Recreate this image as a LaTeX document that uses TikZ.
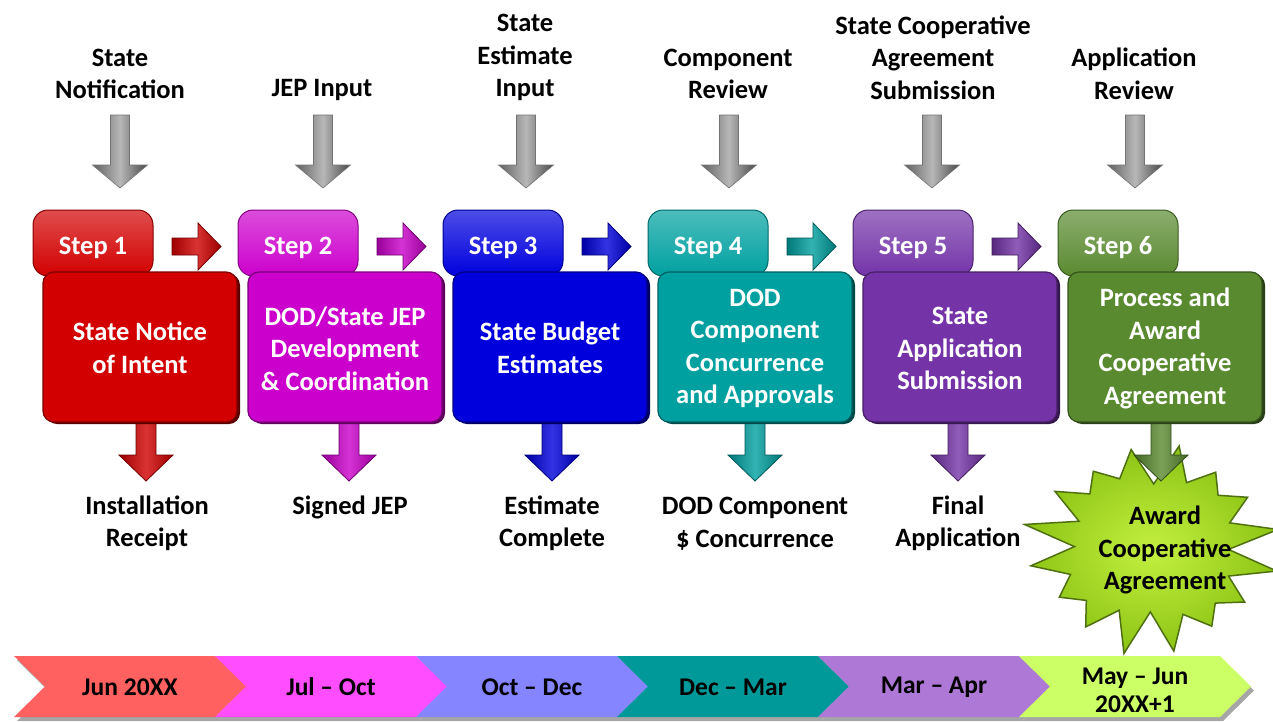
\documentclass[tikz,border=0pt]{standalone}
\usepackage{fontspec}
\setmainfont{Carlito}
\definecolor{sRed}{HTML}{D20000}
\definecolor{sMag}{HTML}{CC00CC}
\definecolor{sBlue}{HTML}{0000DD}
\definecolor{sTeal}{HTML}{00A0A0}
\definecolor{sPurp}{HTML}{7434A8}
\definecolor{sGreen}{HTML}{5A8A30}
\definecolor{tRed}{HTML}{FF6161}
\definecolor{tMag}{HTML}{FF4DFF}
\definecolor{tBlue}{HTML}{8585FF}
\definecolor{tTeal}{HTML}{009999}
\definecolor{tPurp}{HTML}{AE78D6}
\definecolor{tLime}{HTML}{CCFF66}
\definecolor{starIn}{HTML}{C4F040}
\definecolor{starOut}{HTML}{8CC414}
\definecolor{starEdge}{HTML}{4F7010}
% #1 cx, #2 ytop, #3 yhead, #4 ytip, #5 half shaft, #6 half head, #7 style
\newcommand\DownArr[7]{\path[#7] ({#1-#5},#2) -- ({#1+#5},#2) -- ({#1+#5},#3) -- ({#1+#6},#3) -- (#1,#4) -- ({#1-#6},#3) -- ({#1-#5},#3) -- cycle;}
% #1 x0, #2 xhead, #3 xtip, #4 cy, #5 half shaft, #6 half head, #7 style
\newcommand\RightArr[7]{\path[#7] (#1,{#4-#5}) -- (#2,{#4-#5}) -- (#2,{#4-#6}) -- (#3,#4) -- (#2,{#4+#6}) -- (#2,{#4+#5}) -- (#1,{#4+#5}) -- cycle;}
% #1 left x, #2 style
\newcommand\Chev[2]{\path[#2] (#1,656) -- ({#1+201},656) -- ({#1+232},686.5) -- ({#1+201},717) -- (#1,717) -- ({#1+31},686.5) -- cycle;}
\begin{document}
\begin{tikzpicture}[x=1pt,y=-1pt,
  lbl/.style={font=\bfseries\fontsize{26.5}{32.5}\selectfont, align=center, text=black, inner sep=0pt},
  wlbl/.style={lbl, text=white},
  tlbl/.style={font=\bfseries\fontsize{25.5}{28}\selectfont, align=center, text=black, inner sep=0pt},
  tabbox/.style={rounded corners=15pt, minimum width=120pt, minimum height=66pt, inner sep=0pt,
     top color=#1!70!white, bottom color=#1, draw=#1!65!black, line width=1pt},
  mainbox/.style={rounded corners=11pt, minimum width=194pt, minimum height=150pt, inner sep=0pt,
     fill=#1, draw=#1!60!black, line width=1.2pt},
  boxshadow/.style={rounded corners=11pt, minimum width=194pt, minimum height=150pt, inner sep=0pt,
     fill=#1!45!black},
  grayarr/.style={left color=black!62, right color=black!72, middle color=black!28, draw=black!55, line width=0.6pt},
  colarr/.style={left color=#1!75!black, right color=#1!75!black, middle color=#1!80!white, draw=#1!55!black, line width=0.8pt},
  chevshadow/.style={fill=black!35},
  starsty/.style={inner color=starIn, outer color=starOut, draw=starEdge, line width=1.5pt, line join=miter}
]
\useasboundingbox[fill=white] (0,0) rectangle (1273,721);

% gray input arrows
\foreach \k in {0,...,5}{
  \pgfmathsetmacro\cx{120+203*\k}
  \DownArr{\cx}{115}{165}{188}{9.5}{27.5}{grayarr}
}

% top labels
\node[lbl] (in1) at (120,74) {State\\Notification};
\node[lbl] (in2) at (322,90) {JEP Input};
\node[lbl] (in3) at (525,57.5) {State\\Estimate\\Input};
\node[lbl] (in4) at (728,74) {Component\\Review};
\node[lbl] (in5) at (933,57.5) {State Cooperative\\Agreement\\Submission};
\node[lbl] (in6) at (1134,74) {Application\\Review};

% star (award)
\path[starsty] ({1152+120*cos(100)},{548-100*sin(100)})
  \foreach \i in {1,...,31}{
    -- ({1152+120*(1-0.30*mod(\i,2))*(1+0.09*sin(\i*137))*cos(\i*11.25+100)},
        {548-100*(1-0.30*mod(\i,2))*(1+0.09*sin(\i*137))*sin(\i*11.25+100)})
  } -- cycle;

% steps
\foreach \k/\c in {0/sRed,1/sMag,2/sBlue,3/sTeal,4/sPurp,5/sGreen}{
  \pgfmathsetmacro\xo{205*\k}
  \pgfmathsetmacro\dx{146+203*\k}
  \DownArr{\dx}{415}{455}{481}{10}{27}{colarr=\c}
  \ifnum\k<5
    \RightArr{172+\xo}{198+\xo}{221+\xo}{246.5}{8.5}{23.5}{colarr=\c}
  \fi
  \node[tabbox=\c] (tab\k) at ({93+\xo},243) {};
  \node[boxshadow=\c] (shadow\k) at ({143+\xo},349) {};
  \node[mainbox=\c] (box\k) at ({140+\xo},347) {};
  \node[wlbl] (steplbl\k) at ({93+\xo},248) {Step \the\numexpr\k+1\relax};
}

% box texts
\node[wlbl] (t1) at (140,348) {State Notice\\of Intent};
\node[wlbl] (t2) at (345,348.5) {DOD/State JEP\\Development\\\& Coordination};
\node[wlbl] (t3) at (550,348) {State Budget\\Estimates};
\node[wlbl] (t4) at (755,348.5) {DOD\\Component\\Concurrence\\and Approvals};
\node[wlbl] (t5) at (960,348.5) {State\\Application\\Submission};
\node[wlbl] (t6) at (1165,348.5) {Process and\\Award\\Cooperative\\Agreement};

% outputs
\node[lbl] (out1) at (147,523.5) {Installation\\Receipt};
\node[lbl] (out2) at (350,507) {Signed JEP};
\node[lbl] (out3) at (552,523.5) {Estimate\\Complete};
\node[lbl] (out4) at (755,523.5) {DOD Component\\\$ Concurrence};
\node[lbl] (out5) at (958,523.5) {Final\\Application};
\node[lbl] (award) at (1165,550) {Award\\Cooperative\\Agreement};

% timeline
\foreach \k in {0,...,5}{
  \pgfmathsetmacro\lx{14+201*\k}
  \begin{scope}[shift={(3,4)}]
    \Chev{\lx}{chevshadow}
  \end{scope}
}
\foreach \k/\c in {0/tRed,1/tMag,2/tBlue,3/tTeal,4/tPurp,5/tLime}{
  \pgfmathsetmacro\lx{14+201*\k}
  \Chev{\lx}{fill=\c}
}
\node[tlbl] (m1) at (130,687) {Jun 20XX};
\node[tlbl] (m2) at (331,687) {Jul -- Oct};
\node[tlbl] (m3) at (532,687) {Oct -- Dec};
\node[tlbl] (m4) at (733,687) {Dec -- Mar};
\node[tlbl] (m5) at (934,687) {Mar -- Apr};
\node[tlbl] (m6) at (1135,690) {May -- Jun\\20XX+1};
\end{tikzpicture}
\end{document}
